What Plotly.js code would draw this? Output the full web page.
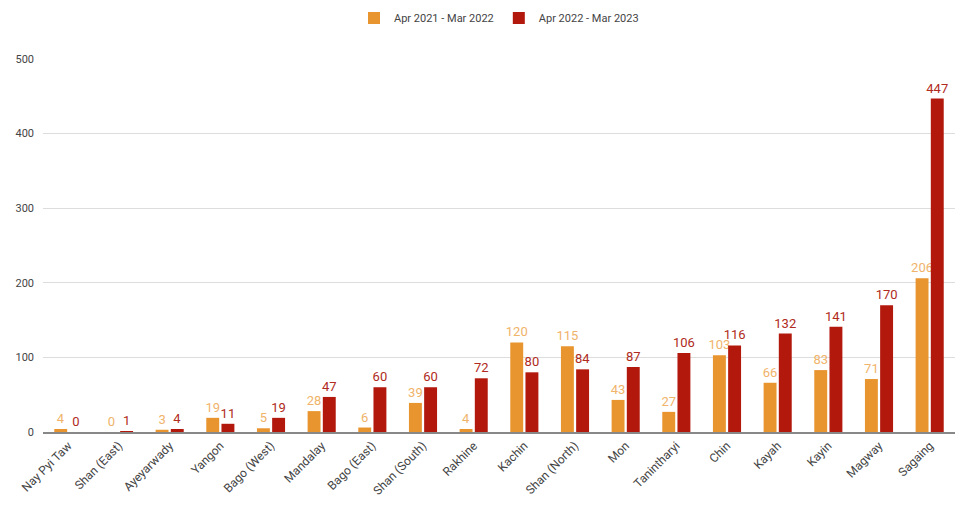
<!DOCTYPE html>
<html>
<head>
<meta charset="utf-8">
<script src="https://cdn.plot.ly/plotly-3.0.1.min.js"></script>
<style>body{margin:0;background:#fff}#chart{width:957px;height:512px}</style>
</head>
<body>
<div id="chart"></div>
<script>
var regions = ['Nay Pyi Taw', 'Shan (East)', 'Ayeyarwady', 'Yangon', 'Bago (West)', 'Mandalay',
    'Bago (East)', 'Shan (South)', 'Rakhine', 'Kachin', 'Shan (North)', 'Mon', 'Tanintharyi',
    'Chin', 'Kayah', 'Kayin', 'Magway', 'Sagaing'];
var y2122 = [4, 0, 3, 19, 5, 28, 6, 39, 4, 120, 115, 43, 27, 103, 66, 83, 71, 206];
var y2223 = [0, 1, 4, 11, 19, 47, 60, 60, 72, 80, 84, 87, 106, 116, 132, 141, 170, 447];

var first = {
    x: regions,
    y: y2122,
    name: 'Apr 2021 - Mar 2022',
    type: 'bar',
    marker: { color: '#e8952f' },
    text: y2122.map(String),
    textposition: 'outside',
    constraintext: 'none',
    textfont: { family: 'Roboto, Arial, sans-serif', size: 13, color: '#f0b36a' },
    cliponaxis: false
};

var second = {
    x: regions,
    y: y2223,
    name: 'Apr 2022 - Mar 2023',
    type: 'bar',
    marker: { color: '#b3180c' },
    text: y2223.map(String),
    textposition: 'outside',
    constraintext: 'none',
    textfont: { family: 'Roboto, Arial, sans-serif', size: 13, color: '#b02a20' },
    cliponaxis: false
};

var layout = {
    width: 957,
    height: 512,
    margin: { l: 43, r: 2, t: 59, b: 80, autoexpand: false },
    paper_bgcolor: '#ffffff',
    plot_bgcolor: '#ffffff',
    font: { family: 'Roboto, Arial, sans-serif', size: 11, color: '#444444' },
    barmode: 'group',
    bargap: 0.4,
    bargroupgap: 0.15,
    uniformtext: { mode: false },
    showlegend: true,
    legend: {
        orientation: 'h',
        x: 0.5, xanchor: 'center',
        yref: 'container',
        y: 0.965, yanchor: 'middle',
        font: { size: 11, color: '#444444' }
    },
    xaxis: {
        tickangle: -45,
        automargin: false,
        tickfont: { size: 12, color: '#444444' },
        showline: true,
        linecolor: '#888888',
        linewidth: 2,
        ticks: ''
    },
    yaxis: {
        range: [0, 500],
        automargin: false,
        tickvals: [0, 100, 200, 300, 400, 500],
        gridcolor: '#dddddd',
        zeroline: false,
        ticks: '',
        ticklabelstandoff: 8,
        tickfont: { size: 11, color: '#444444' }
    }
};

Plotly.newPlot('chart', [first, second], layout, { displayModeBar: false });
</script>
</body>
</html>
